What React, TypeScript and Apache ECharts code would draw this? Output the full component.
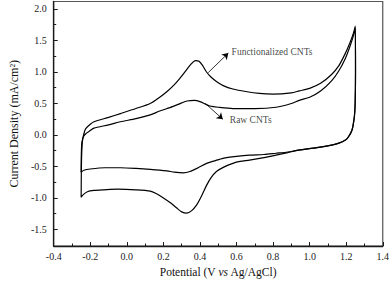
import React, { useEffect, useRef } from 'react';
import * as echarts from 'echarts';

const FONT = 'Liberation Serif, Times New Roman, serif';

// Functionalized CNTs: anodic sweep (-0.25 V -> 1.25 V)
const functionalizedForward: [number, number][] = [
  [-0.25, -0.99], [-0.249, -0.6], [-0.247, -0.3], [-0.243, -0.1], [-0.235, 0.02],
  [-0.225, 0.1], [-0.2, 0.17], [-0.18, 0.21], [-0.1, 0.28], [-0.035, 0.34],
  [0.05, 0.42], [0.128, 0.5], [0.18, 0.6], [0.22, 0.69], [0.26, 0.8],
  [0.29, 0.9], [0.32, 1.01], [0.35, 1.12], [0.375, 1.18], [0.395, 1.17],
  [0.415, 1.1], [0.436, 1.0], [0.46, 0.92], [0.49, 0.85], [0.53, 0.78],
  [0.58, 0.73], [0.65, 0.69], [0.725, 0.66], [0.8, 0.65], [0.9, 0.67],
  [0.943, 0.7], [1.0, 0.74], [1.06, 0.82], [1.12, 0.96], [1.16, 1.1],
  [1.196, 1.3], [1.22, 1.46], [1.24, 1.62], [1.25, 1.73],
];
// Functionalized CNTs: cathodic sweep (1.25 V -> -0.25 V)
const functionalizedReverse: [number, number][] = [
  [1.251, 1.0], [1.249, 0.5], [1.245, 0.3], [1.232, 0.08], [1.21, -0.04],
  [1.196, -0.08], [1.16, -0.13], [1.12, -0.16], [1.04, -0.2], [0.94, -0.24],
  [0.88, -0.28], [0.816, -0.32], [0.75, -0.36], [0.671, -0.4], [0.62, -0.42],
  [0.58, -0.45], [0.53, -0.51], [0.49, -0.58], [0.46, -0.68], [0.436, -0.8],
  [0.41, -0.96], [0.382, -1.11], [0.355, -1.2], [0.327, -1.24], [0.3, -1.22],
  [0.273, -1.16], [0.24, -1.08], [0.2, -1.0], [0.16, -0.93], [0.128, -0.89],
  [0.05, -0.87], [-0.05, -0.86], [-0.125, -0.87], [-0.18, -0.88], [-0.216, -0.9],
  [-0.24, -0.95], [-0.25, -0.99],
];
// Raw CNTs: anodic sweep
const rawForward: [number, number][] = [
  [-0.25, -0.59], [-0.249, -0.3], [-0.246, -0.12], [-0.238, -0.03], [-0.225, 0.02],
  [-0.2, 0.07], [-0.18, 0.11], [-0.1, 0.16], [-0.035, 0.21], [0.05, 0.26],
  [0.128, 0.32], [0.18, 0.38], [0.25, 0.45], [0.3, 0.51], [0.33, 0.54],
  [0.37, 0.55], [0.4, 0.53], [0.43, 0.49], [0.454, 0.46], [0.5, 0.44],
  [0.58, 0.42], [0.7, 0.42], [0.816, 0.44], [0.9, 0.5], [0.943, 0.55],
  [1.0, 0.6], [1.06, 0.7], [1.12, 0.86], [1.16, 1.02], [1.196, 1.22],
  [1.22, 1.4], [1.24, 1.58], [1.25, 1.7],
];
// Raw CNTs: cathodic sweep
const rawReverse: [number, number][] = [
  [1.251, 1.0], [1.249, 0.5], [1.245, 0.3], [1.232, 0.08], [1.21, -0.04],
  [1.196, -0.08], [1.16, -0.13], [1.12, -0.16], [1.04, -0.2], [0.94, -0.24],
  [0.88, -0.27], [0.816, -0.29], [0.75, -0.31], [0.671, -0.32], [0.6, -0.34],
  [0.526, -0.37], [0.48, -0.41], [0.436, -0.45], [0.39, -0.52], [0.345, -0.58],
  [0.309, -0.6], [0.26, -0.59], [0.219, -0.57], [0.128, -0.545], [0.05, -0.53],
  [-0.034, -0.52], [-0.12, -0.52], [-0.2, -0.54], [-0.235, -0.56], [-0.25, -0.59],
];

const yMajorTicks = [-1.5, -1.0, -0.5, 0, 0.5, 1.0, 1.5, 2.0];
const yMinorTicks = [-1.25, -0.75, -0.25, 0.25, 0.75, 1.25, 1.75];

const annotationTexts = ['Functionalized CNTs', 'Raw CNTs'];
const annotationAnchors: [number, number][] = [[0.565, 1.31], [0.555, 0.24]];
const arrowStarts: [number, number][] = [[0.445, 0.99], [0.43, 0.5]];
const arrowEnds: [number, number][] = [[0.555, 1.3], [0.525, 0.25]];

export default function App() {
  const ref = useRef<HTMLDivElement>(null);
  useEffect(() => {
    if (!ref.current) return;
    const chart = echarts.init(ref.current, undefined, { renderer: 'svg' });
    const axisColor = '#1a1a1a';
    const lineStyle = { color: '#000', width: 1.2 };
    const arrowLines = arrowStarts.map((s, i) => [
      { coord: s },
      { coord: arrowEnds[i] },
    ]);
    chart.setOption({
      animation: false,
      backgroundColor: '#fff',
      textStyle: { fontFamily: FONT },
      grid: {
        left: 53, right: 8, top: 1.5, bottom: 37,
        show: true, borderColor: '#555', borderWidth: 1.2, backgroundColor: 'transparent',
      },
      xAxis: {
        type: 'value', min: -0.4, max: 1.4, interval: 0.2,
        name: '{a|Potential (V }{i|vs}{a| Ag/AgCl)}',
        nameLocation: 'middle', nameGap: 20,
        nameTextStyle: {
          fontFamily: FONT,
          rich: {
            a: { fontFamily: FONT, fontSize: 11.5, color: '#111' },
            i: { fontFamily: FONT, fontSize: 11.5, color: '#111', fontStyle: 'italic' },
          },
        },
        axisLine: { onZero: false, lineStyle: { color: axisColor, width: 1.3 } },
        axisTick: { inside: true, length: 4, lineStyle: { color: axisColor, width: 1 } },
        minorTick: { show: true, splitNumber: 2, length: 2.5, lineStyle: { color: axisColor, width: 1 } },
        splitLine: { show: false },
        axisLabel: {
          formatter: (v: number) => v.toFixed(1), color: '#222',
          fontFamily: FONT, fontSize: 10, margin: 5,
        },
      },
      yAxis: [
        {
          type: 'value', min: -1.762, max: 2.119, position: 'left',
          name: 'Current Density (mA/cm²)', nameLocation: 'middle', nameGap: 31,
          nameTextStyle: { fontFamily: FONT, fontSize: 12, color: '#111' },
          axisLine: { show: true, onZero: false, lineStyle: { color: axisColor, width: 1.3 } },
          axisTick: { show: true, inside: true, length: 4, customValues: yMajorTicks, lineStyle: { color: axisColor, width: 1 } },
          splitLine: { show: false },
          axisLabel: {
            customValues: yMajorTicks,
            formatter: (v: number) => v.toFixed(1), color: '#222',
            fontFamily: FONT, fontSize: 10, margin: 7,
          },
        },
        {
          type: 'value', min: -1.762, max: 2.119, position: 'left',
          axisLine: { show: false, onZero: false },
          axisTick: { show: true, inside: true, length: 2.5, customValues: yMinorTicks, lineStyle: { color: axisColor, width: 1 } },
          splitLine: { show: false },
          axisLabel: { show: false },
        },
      ],
      series: [
        {
          name: 'Functionalized CNTs', type: 'line',
          data: [...functionalizedForward, ...functionalizedReverse],
          showSymbol: false, smooth: 0.25, lineStyle, silent: true,
          markLine: {
            silent: true, symbol: ['none', 'arrow'], symbolSize: 6,
            label: { show: false },
            lineStyle: { color: '#000', width: 0.8, type: 'solid' },
            data: arrowLines,
          },
        },
        {
          name: 'Raw CNTs', type: 'line',
          data: [...rawForward, ...rawReverse],
          showSymbol: false, smooth: 0.25, lineStyle, silent: true,
        },
        {
          type: 'scatter', silent: true, symbolSize: 1,
          itemStyle: { color: 'transparent' },
          data: annotationAnchors.map((p, i) => [p[0], p[1], annotationTexts[i]]),
          label: {
            show: true, position: 'right', distance: 1,
            formatter: (p: any) => p.data[2],
            fontFamily: FONT, fontSize: 9.5, color: '#111',
          },
        },
      ],
    });
    return () => chart.dispose();
  }, []);
  return (
    <div
      ref={ref}
      style={{ position: 'fixed', left: 0, top: 0, width: 392, height: 283, background: '#fff' }}
    />
  );
}
